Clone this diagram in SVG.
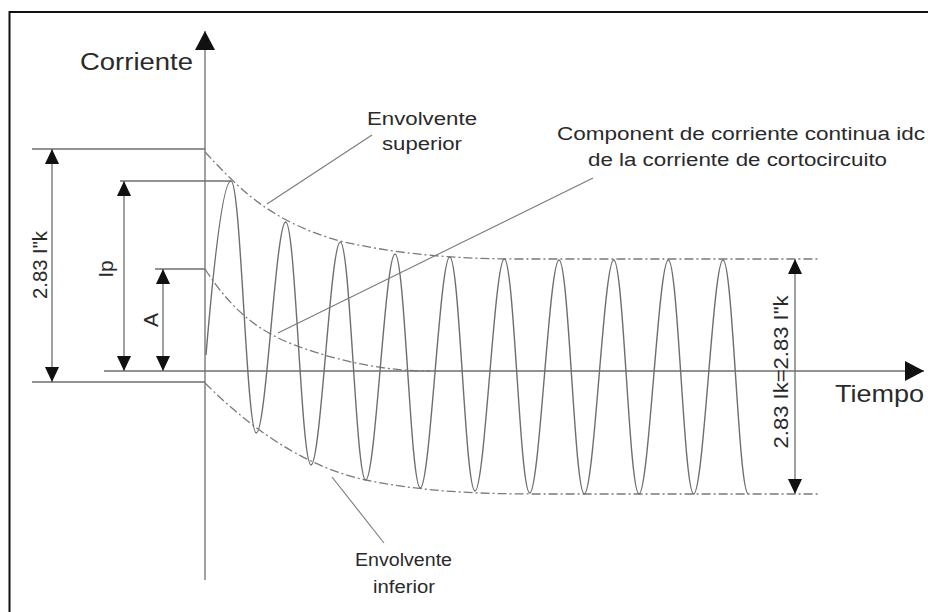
<svg xmlns="http://www.w3.org/2000/svg" width="928" height="612" viewBox="0 0 928 612">
  <style>
    .ln { stroke: #6e6e6e; stroke-width: 1.3; fill: none; }
    .env { stroke: #7a7a7a; stroke-width: 1.3; fill: none; stroke-dasharray: 9 3 2 3; }
    .wave { stroke: #6e6e6e; stroke-width: 1.4; fill: none; }
    .lead { stroke: #7a7a7a; stroke-width: 1.1; fill: none; }
    .dim { stroke: #6e6e6e; stroke-width: 1.3; fill: none; marker-start: url(#ah); marker-end: url(#ah); }
    .lbl { font-family: "Liberation Sans", Arial, sans-serif; fill: #2a2a2a; }
  </style>
  <defs>
    <marker id="ah" viewBox="-16 -8 17 16" refX="0" refY="0" markerWidth="17" markerHeight="16" markerUnits="userSpaceOnUse" orient="auto-start-reverse">
      <path d="M0,0 L-15,-7 L-15,7 Z" fill="#111"/>
    </marker>
    <marker id="axh" viewBox="-20 -11 21 22" refX="0" refY="0" markerWidth="21" markerHeight="22" markerUnits="userSpaceOnUse" orient="auto">
      <path d="M0,0 L-19,-10 L-19,10 Z" fill="#111"/>
    </marker>
  </defs>

  <rect width="928" height="612" fill="#ffffff"/>
  <rect id="frame" x="9.5" y="12" width="1000" height="700" fill="none" stroke="#111" stroke-width="2"/>

  <g id="axes">
    <line class="ln" x1="205" y1="580" x2="205" y2="31" marker-end="url(#axh)"/>
    <line class="ln" x1="104" y1="371" x2="924" y2="371" marker-end="url(#axh)"/>
    <text class="lbl" x="80" y="70" font-size="23" textLength="113" lengthAdjust="spacingAndGlyphs">Corriente</text>
    <text class="lbl" x="835" y="402" font-size="24" textLength="89" lengthAdjust="spacingAndGlyphs">Tiempo</text>
  </g>

  <g id="reference-lines">
    <line class="ln" x1="32" y1="149" x2="205" y2="149"/>
    <line class="ln" x1="120" y1="181" x2="231" y2="181"/>
    <line class="ln" x1="155" y1="269" x2="205" y2="269"/>
    <line class="ln" x1="32" y1="382" x2="205" y2="382"/>
  </g>

  <g id="dim-2-83-Ik">
    <line class="dim" x1="52" y1="149" x2="52" y2="382"/>
    <text class="lbl" transform="translate(47,265) rotate(-90)" text-anchor="middle" font-size="21" textLength="68" lengthAdjust="spacingAndGlyphs">2.83 I"k</text>
  </g>
  <g id="dim-Ip">
    <line class="dim" x1="124" y1="181" x2="124" y2="371"/>
    <text class="lbl" transform="translate(113,269) rotate(-90)" text-anchor="middle" font-size="21">Ip</text>
  </g>
  <g id="dim-A">
    <line class="dim" x1="163" y1="269" x2="163" y2="371"/>
    <text class="lbl" transform="translate(158,320) rotate(-90)" text-anchor="middle" font-size="21">A</text>
  </g>
  <g id="dim-Ik">
    <line class="dim" x1="795" y1="259" x2="795" y2="494"/>
    <text class="lbl" transform="translate(788,372) rotate(-90)" text-anchor="middle" font-size="21" textLength="153" lengthAdjust="spacingAndGlyphs">2.83 Ik=2.83 I"k</text>
  </g>

  <g id="envelopes">
    <path id="env-sup" class="env" d="M205,152 C237,186 268,221 340,241 C400,255 460,259 520,259 L818,259"/>
    <path id="env-inf" class="env" d="M205,383 C258,436 313,469 366,480 C424,492 482,494 540,494 L818,494"/>
    <path id="dc" class="env" d="M205,269 C237,318.6 268,335.5 300,347 C343,362.5 387,371 430,371"/>
  </g>

  <g id="wave">
    <path class="wave" d="M206,355 C214,260 223,181 231,181
      C241,181 246.4,433 256.3,433
      C266.2,433 275.8,222 285.7,222
      C295.6,222 301.1,465 311,465
      C320.9,465 330.4,242 340.3,242
      C350.2,242 355.8,480 365.7,480
      C375.6,480 385.1,254 395,254
      C404.9,254 410.4,488 420.3,488
      C430.2,488 439.8,257 449.7,257
      C459.6,257 465.1,491 475,491
      C484.9,491 494.4,259 504.3,259
      C514.2,259 519.8,493 529.7,493
      C539.6,493 549.1,260 559,260
      C568.9,260 574.4,494 584.3,494
      C594.2,494 603.8,260 613.7,260
      C623.6,260 629.1,494 639,494
      C648.9,494 658.4,260 668.3,260
      C678.2,260 683.8,494 693.7,494
      C703.6,494 713.1,260 723,260
      C732.9,260 738.4,494 748.3,494"/>
  </g>

  <g id="connectors">
    <line class="lead" x1="267" y1="204" x2="372" y2="135"/>
    <line class="lead" x1="278" y1="333" x2="593" y2="178"/>
    <line class="lead" x1="332" y1="477" x2="384" y2="543"/>
  </g>

  <g id="label-env-sup">
    <text class="lbl" x="367" y="125" font-size="18" textLength="110" lengthAdjust="spacingAndGlyphs">Envolvente</text>
    <text class="lbl" x="382" y="150" font-size="18" textLength="80" lengthAdjust="spacingAndGlyphs">superior</text>
  </g>
  <g id="label-dc">
    <text class="lbl" x="557" y="140" font-size="18" textLength="368" lengthAdjust="spacingAndGlyphs">Component de corriente continua idc</text>
    <text class="lbl" x="588" y="166" font-size="18" textLength="299" lengthAdjust="spacingAndGlyphs">de la corriente de cortocircuito</text>
  </g>
  <g id="label-env-inf">
    <text class="lbl" x="355" y="566" font-size="18" textLength="97" lengthAdjust="spacingAndGlyphs">Envolvente</text>
    <text class="lbl" x="373" y="593" font-size="18" textLength="62" lengthAdjust="spacingAndGlyphs">inferior</text>
  </g>
</svg>
